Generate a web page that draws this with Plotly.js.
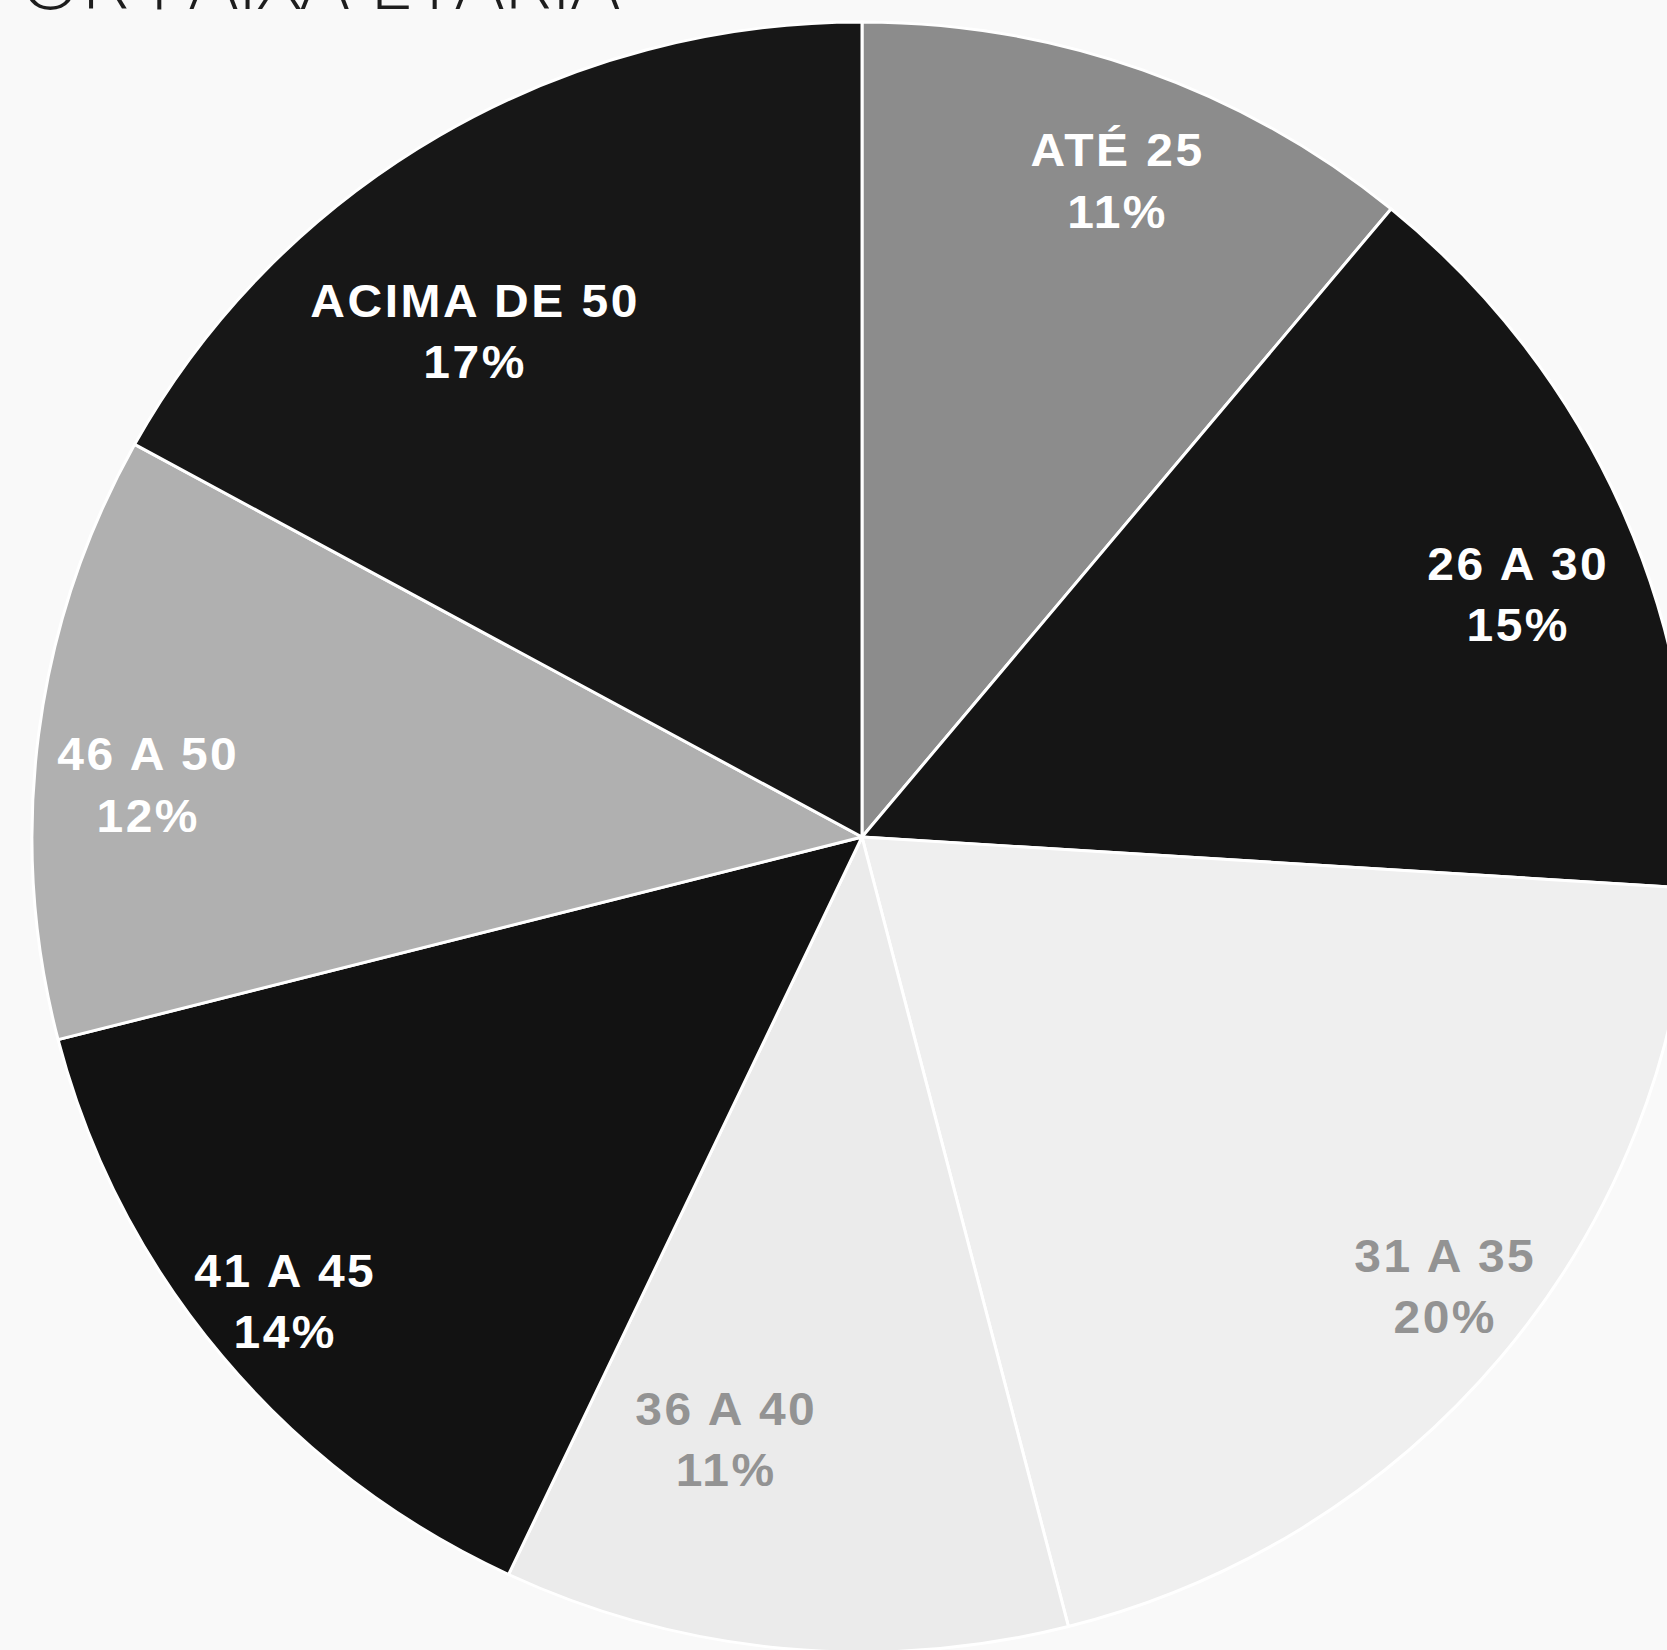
<!DOCTYPE html>
<html>
<head>
<meta charset="utf-8">
<script src="https://cdn.plot.ly/plotly-3.0.1.min.js"></script>
<style>
  html, body { margin: 0; padding: 0; width: 1667px; height: 1650px; overflow: hidden; background: #f9f9f9; }
  #chart { position: absolute; left: 0; }
  #chart .annotation-text.rotulo { letter-spacing: 2.5px; }
</style>
</head>
<body>
<div id="chart"></div>
<script>
// Age bands and their share of the total (percent)
const faixas = ['ATÉ 25', '26 A 30', '31 A 35', '36 A 40', '41 A 45', '46 A 50', 'ACIMA DE 50'];
const percentuais = [11, 15, 20, 11, 14, 12, 17];
const coresFatias = ['#8c8c8c', '#151515', '#efefef', '#ebebeb', '#121212', '#b0b0b0', '#171717'];
const coresRotulos = ['#ffffff', '#ffffff', '#939393', '#939393', '#ffffff', '#ffffff', '#ffffff'];
const tituloVisivel = 'POR FAIXA ETÁRIA';

// Label placement: distance from centre (fraction of radius) and a small turn (degrees) off the bisector
const rotuloRaio = [0.862, 0.845, 0.893, 0.757, 0.898, 0.862, 0.776];
const rotuloGiro = [1.1, 2.7, -1.5, 7.1, 0.3, -2.9, -6.3];

// Page geometry of the pie (centre and radius, px), its slight vertical squash, and room above the page
const cx = 862, cy = 837, R = 830, squash = 0.982, topExtra = 100;
const W = cx + R;
const H = cy + R + topExtra;

const el = document.getElementById('chart');
el.style.top = (-topExtra) + 'px';
el.style.width = W + 'px';
el.style.height = H + 'px';
el.style.transformOrigin = cx + 'px ' + (cy + topExtra) + 'px';
el.style.transform = 'scaleY(' + squash + ')';

const toPaperX = px => px / W;
const toPaperY = py => 1 - (py + topExtra) / H;

const total = percentuais.reduce((a, b) => a + b, 0);
let acumulado = 0;
const rotulos = faixas.map((nome, i) => {
  const meio = (acumulado + percentuais[i] / 2) / total * 2 * Math.PI + rotuloGiro[i] * Math.PI / 180;
  acumulado += percentuais[i];
  const r = rotuloRaio[i] * R;
  const px = cx + r * Math.sin(meio);
  const py = cy - r * Math.cos(meio);
  return {
    x: toPaperX(px), y: toPaperY(py), xref: 'paper', yref: 'paper',
    xanchor: 'center', yanchor: 'middle', showarrow: false,
    text: nome + '<br>' + percentuais[i] + '%',
    font: { family: 'Liberation Sans, Arial, sans-serif', size: 48, weight: 'bold', color: coresRotulos[i] }
  };
});

// Heading line above the pie (runs off the top edge of the page)
rotulos.push({
  x: toPaperX(622), y: toPaperY(19), xref: 'paper', yref: 'paper',
  xanchor: 'right', yanchor: 'bottom', showarrow: false,
  text: tituloVisivel,
  font: { family: 'Open Sans, DejaVu Sans, sans-serif', size: 80, weight: 300, color: '#1e1e1e' }
});

const trace = {
  type: 'pie',
  labels: faixas,
  values: percentuais,
  sort: false,
  direction: 'clockwise',
  rotation: 0,
  textinfo: 'none',
  hoverinfo: 'skip',
  marker: { colors: coresFatias, line: { color: '#ffffff', width: 3 } },
  domain: { x: [(cx - R) / W, (cx + R) / W], y: [toPaperY(cy + R), toPaperY(cy - R)] }
};

const layout = {
  width: W, height: H,
  margin: { l: 0, r: 0, t: 0, b: 0 },
  paper_bgcolor: '#f9f9f9',
  plot_bgcolor: '#f9f9f9',
  showlegend: false,
  annotations: rotulos
};

Plotly.newPlot(el, [trace], layout, { staticPlot: true, displayModeBar: false }).then(() => {
  // slice labels get a little extra tracking; the heading stays as set
  const textos = el.querySelectorAll('.annotation-text');
  textos.forEach((t, i) => { if (i < faixas.length) t.classList.add('rotulo'); });
  Plotly.relayout(el, {});
});
</script>
</body>
</html>
